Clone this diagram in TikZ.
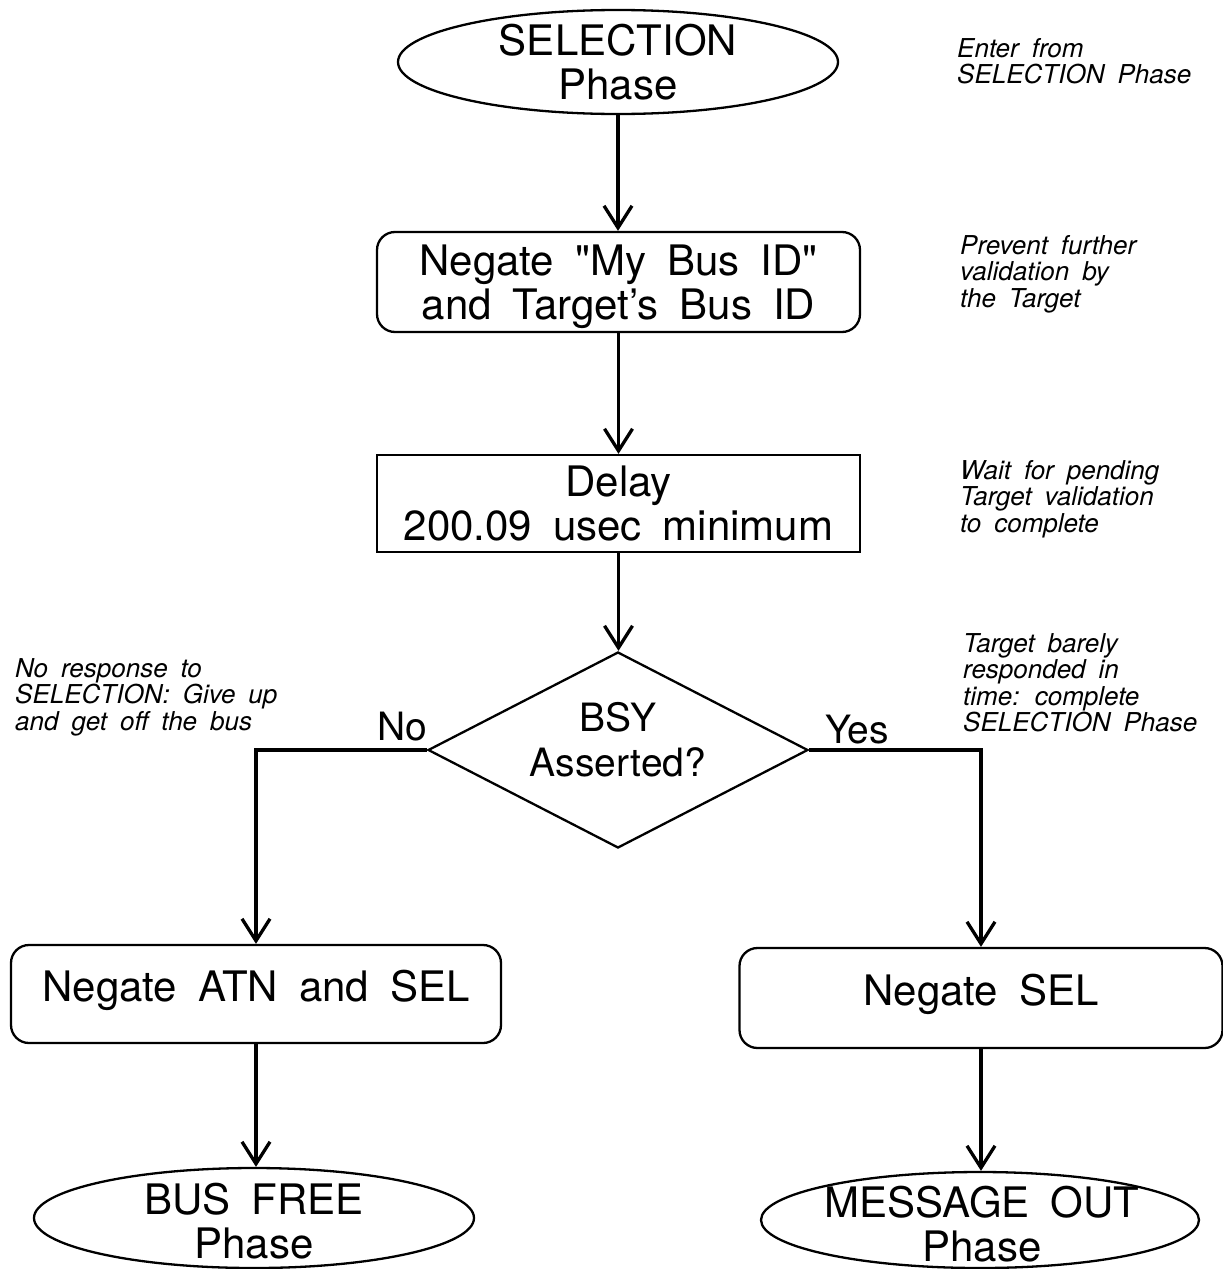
\documentclass[tikz,border=0pt]{standalone}
\usepackage{fontspec}
\setmainfont[WordSpace=1.8, Ligatures=TeXOff]{TeX Gyre Heros}
\usetikzlibrary{shapes.geometric,arrows.meta}

\tikzset{
  shapeline/.style={draw=black, line width=2.3pt},
  procbox/.style={shapeline, rectangle, rounded corners=18pt, inner sep=0pt,
    align=center, font=\fontsize{42}{44}\selectfont},
  plainbox/.style={shapeline, rectangle, inner sep=0pt,
    align=center, font=\fontsize{42}{44}\selectfont},
  phase/.style={shapeline, ellipse, inner sep=0pt},
  phasetext/.style={inner sep=0pt, align=center, font=\fontsize{42}{44}\selectfont},
  decision/.style={shapeline, diamond, inner sep=0pt},
  decisiontext/.style={inner sep=0pt, align=center, font=\fontsize{39}{45}\selectfont},
  branchlabel/.style={inner sep=0pt, anchor=base west, font=\fontsize{39}{45}\selectfont},
  note/.style={inner sep=0pt, anchor=north west, align=left,
    font=\fontsize{26}{26.5}\selectfont\itshape},
  flow/.style={line width=3.3pt, -{Straight Barb[length=22pt,width=28pt,line width=3.3pt]}}
}

\begin{document}
\begin{tikzpicture}[x=1pt,y=-1pt]
  \useasboundingbox (0,0) rectangle (1223,1269);

  % main column
  \node[phase, minimum width=440pt, minimum height=104pt] (sel) at (618,62) {};
  \node[phasetext] (seltext) at (618,62.5) {SELECTION\\Phase};

  \node[procbox, minimum width=483pt, minimum height=100pt, text depth=0pt]
    (negid) at (618.5,282) {Negate "My Bus ID"\\and Target’s Bus ID};

  \node[plainbox, minimum width=483pt, minimum height=97pt]
    (delay) at (618.5,503.5) {Delay\\200.09 usec minimum};

  \node[decision, minimum width=380pt, minimum height=196pt] (bsy) at (618,750) {};
  \node[decisiontext] (bsytext) at (618,740) {BSY\\Asserted?};

  % branches
  \node[procbox, minimum width=490pt, minimum height=98pt, text depth=17pt]
    (negatn) at (256,994) {Negate ATN and SEL};
  \node[procbox, minimum width=483pt, minimum height=100pt, text depth=17pt]
    (negsel) at (981,998) {Negate SEL};

  \node[phase, minimum width=440pt, minimum height=100pt] (busfree) at (254,1218) {};
  \node[phasetext] (busfreetext) at (254,1221) {BUS FREE\\Phase};

  \node[phase, minimum width=438pt, minimum height=96pt] (msgout) at (980,1220) {};
  \node[phasetext] (msgouttext) at (982,1224) {MESSAGE OUT\\Phase};

  % branch labels
  \node[branchlabel] (nolabel) at (377,740) {No};
  \node[branchlabel] (yeslabel) at (825,743) {Yes};

  % side notes
  \node[note] (n1) at (957,38) {Enter from\\SELECTION Phase};
  \node[note] (n2) at (960,235) {Prevent further\\validation by\\the Target};
  \node[note] (n3) at (960,460) {Wait for pending\\Target validation\\to complete};
  \node[note] (n4) at (963,633) {Target barely\\responded in\\time: complete\\SELECTION Phase};
  \node[note] (n5) at (15,658) {No response to\\SELECTION: Give up\\and get off the bus};

  % connectors
  \draw[flow] (sel.south) -- (sel.south |- negid.north);
  \draw[flow] (negid.south) -- (negid.south |- delay.north);
  \draw[flow] (delay.south) -- (delay.south |- bsy.north);
  \draw[flow] (bsy.west) -| (negatn.north);
  \draw[flow] (bsy.east) -| (negsel.north);
  \draw[flow] (negatn.south) -- (negatn.south |- busfree.north);
  \draw[flow] (negsel.south) -- (negsel.south |- msgout.north);
\end{tikzpicture}
\end{document}
